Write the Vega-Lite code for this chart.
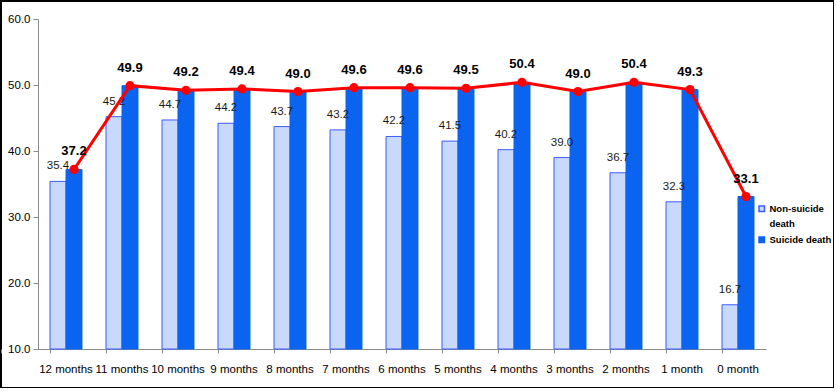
{
  "$schema": "https://vega.github.io/schema/vega-lite/v6.json",
  "width": 833,
  "height": 387,
  "autosize": "none",
  "padding": {"left": 1, "top": 1, "right": 0, "bottom": 0},
  "background": "white",
  "config": {
    "view": {"stroke": "#000000", "strokeWidth": 2},
    "font": "Liberation Sans, Arial, sans-serif",
    "style": {"guide-label": {"lineHeight": 15}}
  },
  "data": {
    "values": [
      {"month": "12 months", "group": "Non-suicide death", "value": 35.4},
      {"month": "11 months", "group": "Non-suicide death", "value": 45.2},
      {"month": "10 months", "group": "Non-suicide death", "value": 44.7},
      {"month": "9 months", "group": "Non-suicide death", "value": 44.2},
      {"month": "8 months", "group": "Non-suicide death", "value": 43.7},
      {"month": "7 months", "group": "Non-suicide death", "value": 43.2},
      {"month": "6 months", "group": "Non-suicide death", "value": 42.2},
      {"month": "5 months", "group": "Non-suicide death", "value": 41.5},
      {"month": "4 months", "group": "Non-suicide death", "value": 40.2},
      {"month": "3 months", "group": "Non-suicide death", "value": 39.0},
      {"month": "2 months", "group": "Non-suicide death", "value": 36.7},
      {"month": "1 month", "group": "Non-suicide death", "value": 32.3},
      {"month": "0 month", "group": "Non-suicide death", "value": 16.7},
      {"month": "12 months", "group": "Suicide death", "value": 37.2},
      {"month": "11 months", "group": "Suicide death", "value": 49.9},
      {"month": "10 months", "group": "Suicide death", "value": 49.2},
      {"month": "9 months", "group": "Suicide death", "value": 49.4},
      {"month": "8 months", "group": "Suicide death", "value": 49.0},
      {"month": "7 months", "group": "Suicide death", "value": 49.6},
      {"month": "6 months", "group": "Suicide death", "value": 49.6},
      {"month": "5 months", "group": "Suicide death", "value": 49.5},
      {"month": "4 months", "group": "Suicide death", "value": 50.4},
      {"month": "3 months", "group": "Suicide death", "value": 49.0},
      {"month": "2 months", "group": "Suicide death", "value": 50.4},
      {"month": "1 month", "group": "Suicide death", "value": 49.3},
      {"month": "0 month", "group": "Suicide death", "value": 33.1}
    ]
  },
  "encoding": {
    "x": {
      "field": "month",
      "type": "nominal",
      "sort": null,
      "scale": {"range": [37, 765], "paddingInner": 0.4286, "paddingOuter": 0.2143},
      "axis": {
        "title": null,
        "bandPosition": 0,
        "tickExtra": true,
        "offset": -39,
        "tickSize": 4,
        "labelPadding": 10,
        "labelAngle": 0,
        "labelFontSize": 11.5,
        "labelColor": "#000000",
        "domainColor": "#8c8c8c",
        "tickColor": "#8c8c8c"
      }
    },
    "xOffset": {
      "field": "group",
      "type": "nominal",
      "scale": {"domain": ["Non-suicide death", "Suicide death"], "paddingInner": 0, "paddingOuter": 0}
    },
    "y": {
      "field": "value",
      "type": "quantitative",
      "scale": {"domain": [10, 60], "range": [348, 18], "nice": false, "zero": false},
      "axis": {
        "title": null,
        "grid": false,
        "values": [10, 20, 30, 40, 50, 60],
        "format": ".1f",
        "offset": -37,
        "tickSize": 5,
        "labelPadding": 3,
        "labelFontSize": 11.5,
        "labelColor": "#000000",
        "domainColor": "#8c8c8c",
        "tickColor": "#8c8c8c"
      }
    }
  },
  "layer": [
    {
      "mark": {"type": "bar", "strokeWidth": 1},
      "encoding": {
        "y2": {"datum": 10},
        "color": {
          "field": "group",
          "type": "nominal",
          "scale": {"domain": ["Non-suicide death", "Suicide death"], "range": ["#c9d9fb", "#0a64f0"]},
          "legend": {
            "title": null,
            "orient": "none",
            "legendX": 756,
            "legendY": 203,
            "symbolType": "square",
            "symbolSize": 30,
            "symbolStrokeWidth": 1.5,
            "labelFontSize": 9.5,
            "labelFontWeight": "bold",
            "labelColor": "#000000",
            "labelOffset": 3,
            "rowPadding": 5,
            "labelLimit": 90,
            "labelExpr": "datum.label == 'Non-suicide death' ? ['Non-suicide', 'death'] : datum.label"
          }
        },
        "stroke": {
          "field": "group",
          "type": "nominal",
          "scale": {"domain": ["Non-suicide death", "Suicide death"], "range": ["#3a5cff", "#0a64f0"]},
          "legend": {
            "title": null,
            "orient": "none",
            "legendX": 756,
            "legendY": 203,
            "symbolType": "square",
            "symbolSize": 30,
            "symbolStrokeWidth": 1.5,
            "labelFontSize": 9.5,
            "labelFontWeight": "bold",
            "labelColor": "#000000",
            "labelOffset": 3,
            "rowPadding": 5,
            "labelLimit": 90,
            "labelExpr": "datum.label == 'Non-suicide death' ? ['Non-suicide', 'death'] : datum.label"
          }
        }
      }
    },
    {
      "transform": [{"filter": "datum.group == 'Non-suicide death'"}],
      "mark": {"type": "text", "baseline": "middle", "dy": -15, "fontSize": 11.5, "color": "#1a1a1a"},
      "encoding": {
        "text": {"field": "value", "type": "quantitative", "format": ".1f"}
      }
    },
    {
      "transform": [{"filter": "datum.group == 'Suicide death'"}],
      "mark": {
        "type": "line",
        "color": "#ff0000",
        "strokeWidth": 3,
        "point": {"filled": true, "size": 85, "color": "#ff0000"}
      },
      "encoding": {}
    },
    {
      "transform": [{"filter": "datum.group == 'Suicide death'"}],
      "mark": {"type": "text", "baseline": "middle", "dy": -18, "fontSize": 13, "fontWeight": "bold", "color": "#000000"},
      "encoding": {
        "text": {"field": "value", "type": "quantitative", "format": ".1f"}
      }
    }
  ]
}
